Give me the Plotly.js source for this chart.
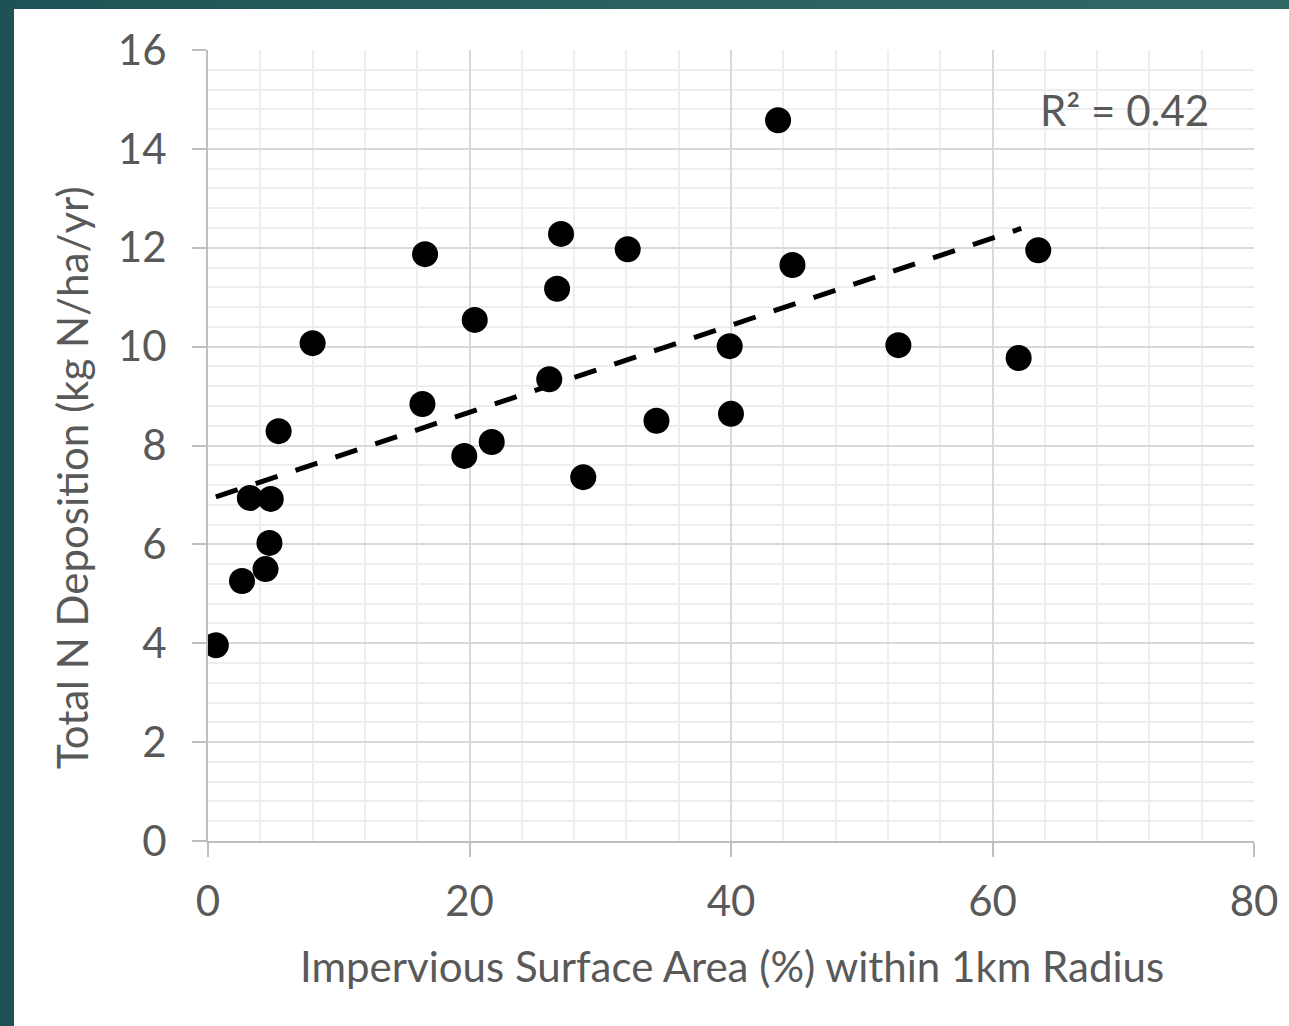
<!DOCTYPE html>
<html>
<head>
<meta charset="utf-8">
<script src="https://cdn.plot.ly/plotly-3.0.1.min.js"></script>
<style>
  html, body { margin: 0; padding: 0; width: 1289px; height: 1026px; overflow: hidden;
    background: linear-gradient(90deg, #1f5256 0%, #2a6260 50%, #2e6764 100%); }
  #chart { position: absolute; left: 14px; top: 9px; width: 1275px; height: 1017px; background: #fff; }
</style>
</head>
<body>
<div id="chart"></div>
<script>
// Data
const imperviousPct = [0.6, 2.6, 4.4, 4.7, 3.2, 4.8, 5.4, 8.0, 16.6, 16.4, 19.6, 20.4, 21.7, 26.1, 26.7, 27.0, 28.7, 32.1, 34.3, 39.9, 40.0, 43.6, 44.7, 52.8, 62.0, 63.5];
const nDeposition  = [3.96, 5.26, 5.50, 6.03, 6.94, 6.92, 8.29, 10.07, 11.87, 8.84, 7.79, 10.54, 8.07, 9.34, 11.17, 12.28, 7.36, 11.97, 8.50, 10.01, 8.64, 14.58, 11.65, 10.03, 9.77, 11.95];
const trendX = [0.6, 62.2];
const trendY = [6.96, 12.39];
const r2Label = "R² = 0.42";
const xTitle = "Impervious Surface Area (%) within 1km Radius";
const yTitle = "Total N Deposition (kg N/ha/yr)";

const FONT = "Lato, 'Open Sans', sans-serif";
const TXT = "#595959";
const FS = 42;

const traces = [
  {
    x: imperviousPct, y: nDeposition, type: "scatter", mode: "markers",
    marker: { color: "#000", size: 26, line: { width: 0 } },
    hoverinfo: "x+y", showlegend: false
  },
  {
    x: trendX, y: trendY, type: "scatter", mode: "lines",
    line: { color: "#000", width: 5, dash: "23px,19px" },
    hoverinfo: "skip", showlegend: false
  }
];

const layout = {
  width: 1275, height: 1017,
  margin: { l: 194, r: 35, t: 41, b: 185 },
  paper_bgcolor: "#ffffff", plot_bgcolor: "#ffffff",
  font: { family: FONT, color: TXT, size: FS },
  showlegend: false,
  xaxis: {
    range: [0, 80], tickmode: "linear", tick0: 0, dtick: 20,
    showgrid: true, gridcolor: "#d9d9d9", gridwidth: 2,
    minor: { dtick: 4, showgrid: true, gridcolor: "#eeeeee", gridwidth: 2, ticks: "" },
    zeroline: false, showline: true, linecolor: "#bfbfbf", linewidth: 2,
    ticks: "outside", ticklen: 14, tickwidth: 2, tickcolor: "#bfbfbf",
    ticklabelstandoff: 9,
    tickfont: { family: FONT, size: FS, color: TXT }
  },
  yaxis: {
    range: [0, 16], tickmode: "linear", tick0: 0, dtick: 2,
    showgrid: true, gridcolor: "#d9d9d9", gridwidth: 2,
    minor: { dtick: 0.4, showgrid: true, gridcolor: "#eeeeee", gridwidth: 2, ticks: "" },
    zeroline: false, showline: true, linecolor: "#bfbfbf", linewidth: 2,
    ticks: "outside", ticklen: 14, tickwidth: 2, tickcolor: "#bfbfbf",
    ticklabelstandoff: 17,
    tickfont: { family: FONT, size: FS, color: TXT }
  },
  annotations: [
    { x: 70.06, y: 14.79, xref: "x", yref: "y", text: r2Label, showarrow: false,
      xanchor: "center", yanchor: "middle", font: { family: FONT, size: FS, color: TXT } },
    { x: 0.5005, y: -0.158, xref: "paper", yref: "paper", text: xTitle, showarrow: false,
      xanchor: "center", yanchor: "middle", font: { family: FONT, size: FS, color: TXT } },
    { x: -0.130, y: 0.459, xref: "paper", yref: "paper", text: yTitle, showarrow: false,
      textangle: -90, xanchor: "center", yanchor: "middle", font: { family: FONT, size: FS, color: TXT } }
  ]
};

Plotly.newPlot("chart", traces, layout, { displayModeBar: false, staticPlot: true });
</script>
</body>
</html>
